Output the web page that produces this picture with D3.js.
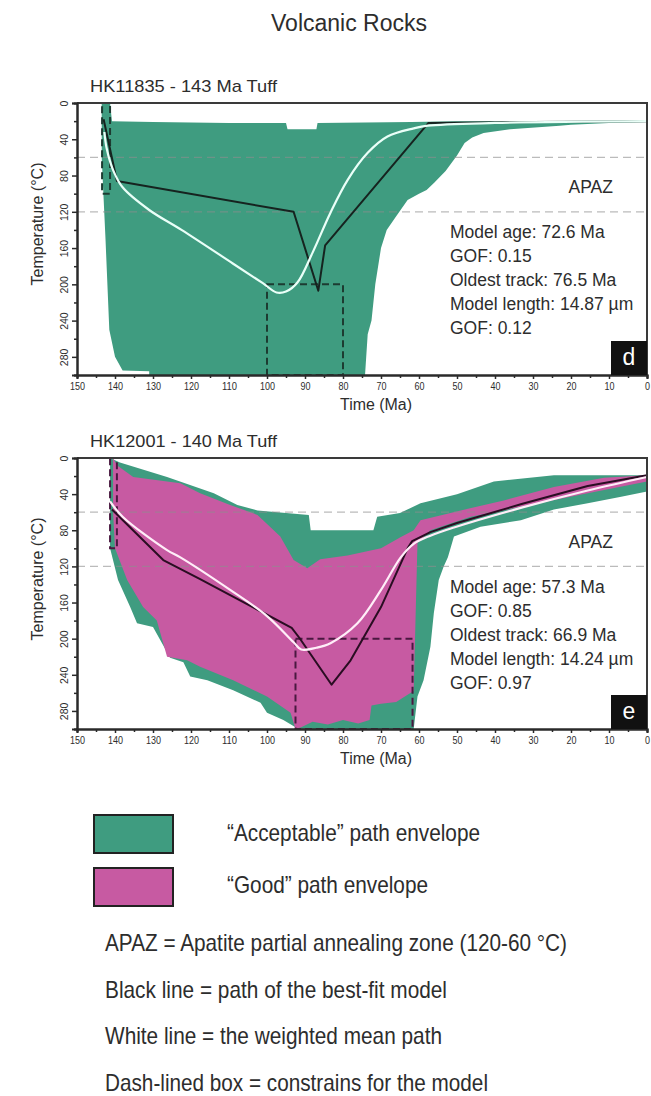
<!DOCTYPE html>
<html>
<head>
<meta charset="utf-8">
<script src="https://cdn.jsdelivr.net/npm/d3@7"></script>
<style>
  body { margin: 0; background: #fff; }
  svg { display: block; }
  text { font-family: 'Liberation Sans', Arial, sans-serif; fill: #2d2d2d; }
</style>
</head>
<body>
<svg id="chart" width="651" height="1096"></svg>
<script>
// ---- axes ----
const timeTicks = [150, 140, 130, 120, 110, 100, 90, 80, 70, 60, 50, 40, 30, 20, 10, 0];
const timeMinor = [145, 135, 125, 115, 105, 95, 85, 75, 65, 55, 45, 35, 25, 15, 5];
const tempTicks = [0, 40, 80, 120, 160, 200, 240, 280];
const tempMinor = [20, 60, 100, 140, 180, 220, 260, 300];
const apazLimits = [60, 120];

// ---- HK11835 (panel d) : [time Ma, temperature °C] ----
const dAcceptUpper = [[143.5, 0], [141.3, 0], [140.8, 20], [130, 21], [110, 22], [95, 22], [94.6, 29], [87, 29], [86.7, 22], [62, 21], [50, 20], [30, 20], [0, 19]];
const dAcceptLower = [[0, 21], [10, 22], [20, 24], [23, 25], [36, 29], [43, 33], [46, 38], [48, 44], [50, 58], [53, 75], [56, 88], [58, 96], [60, 100], [63, 107], [66, 125], [68.5, 140], [70, 160], [71.5, 200], [72.5, 240], [73.5, 255], [74, 287], [74.2, 300], [131, 300], [131, 296], [138, 295], [140, 280], [141.5, 250], [142.5, 150], [143.5, 60]];
const dBestFit = [[143, 18], [139.5, 86], [93, 120], [86.5, 207], [84.7, 157], [57.5, 22], [30, 21], [0, 20]];
const dMeanPath = [[142.8, 32], [142.2, 50], [140.5, 74], [138, 93], [131, 118], [122.5, 140], [109, 177], [101, 199], [97.5, 209], [95, 208], [92, 198], [88, 165], [83.3, 121], [78.8, 85], [73.5, 55], [68.3, 37], [61.4, 28], [57.7, 25], [40, 22], [0, 20]];
const dBoxes = [[143.4, 141.3, 0, 100], [100, 80, 200, 300]];
const dStats = ["Model age: 72.6 Ma", "GOF: 0.15", "Oldest track: 76.5 Ma", "Model length: 14.87 µm", "GOF: 0.12"];

// ---- HK12001 (panel e) ----
const eAcceptUpper = [[141.3, 0], [138.7, 5], [126.3, 21], [114, 39], [107.8, 52], [102.5, 58], [89, 63], [88.5, 80], [72, 80], [71, 65], [65, 61], [59.6, 50], [50, 40], [40.3, 26], [24.5, 19], [0, 19]];
const eAcceptLower = [[0, 37], [6.8, 43], [15.6, 50], [24.5, 57], [33.2, 69], [43.8, 76], [50.8, 87], [52.4, 110], [53.5, 120], [54.8, 135], [56.1, 172], [57, 209], [58.8, 246], [60.4, 264], [61.4, 300], [92, 300], [92.5, 298], [95.7, 290], [100, 282], [101.7, 271], [108.9, 257], [115.7, 246], [120.2, 242], [122, 226], [125.5, 221], [130, 187], [134.2, 183], [136, 165], [139.2, 135], [141.3, 100]];
const eGoodUpper = [[140.5, 0], [139.5, 8], [135.2, 21], [122.8, 28], [117.6, 39], [109.7, 52], [102.5, 63], [96.5, 87], [93, 113], [89.4, 122], [86, 112], [78.8, 108], [70, 100], [65, 88], [61.4, 80], [59.6, 69], [49, 58], [37.7, 47], [24.5, 32], [11.3, 22], [0, 19]];
const eGoodLower = [[0, 26], [15.6, 39], [33.2, 54], [46.4, 65], [57, 80], [60.4, 94], [61.4, 258], [63, 262], [66, 270], [70, 272], [72.5, 274], [73, 290], [76, 294], [80, 290], [84, 295], [88, 292], [91, 298], [92.5, 300], [93.8, 282], [100, 264], [108.9, 246], [117.6, 231], [121, 224], [126.3, 220], [129, 180], [132.6, 165], [136.8, 135], [140, 100], [140.5, 60]];
const eBestFit = [[140.8, 57], [127.3, 113], [117.6, 134], [93.5, 188], [91.5, 199], [83, 251], [78, 224], [70, 165], [63, 100], [61.8, 92], [57, 82], [50, 72], [33, 51], [15.6, 31], [0, 19]];
const eMeanPath = [[141.3, 48], [138, 65], [126.3, 102], [122.8, 110], [109.7, 146], [100, 175], [93, 204], [91, 212], [87, 210], [83.3, 205], [76.2, 183], [70, 146], [64.8, 110], [61.4, 95], [57, 86], [50.8, 77], [33, 55], [15.6, 36], [0, 21]];
const eBoxes = [[141.3, 139.5, 0, 100], [92.5, 61.7, 200, 300]];
const eStats = ["Model age: 57.3 Ma", "GOF: 0.85", "Oldest track: 66.9 Ma", "Model length: 14.24 µm", "GOF: 0.97"];

// ---- legend ----
const legendSwatches = ["\u201CAcceptable\u201D path envelope", "\u201CGood\u201D path envelope"];
const legendNotes = [
  "APAZ = Apatite partial annealing zone (120-60 \u00B0C)",
  "Black line = path of the best-fit model",
  "White line = the weighted mean path",
  "Dash-lined box = constrains for the model"
];

const GREEN = "#3f9c80";
const PINK = "#c75aa2";

const svg = d3.select("#chart");

// page title
svg.append("text")
  .attr("x", 349).attr("y", 31)
  .attr("text-anchor", "middle")
  .attr("font-size", 23)
  .text("Volcanic Rocks");

const x = d3.scaleLinear().domain([150, 0]).range([77, 647]);

function envelopePath(upper, lower, y) {
  const line = d3.line().x(d => x(d[0])).y(d => y(d[1]));
  return line(upper.concat(lower)) + "Z";
}

function drawPanel(cfg) {
  const y = d3.scaleLinear().domain([0, 300]).range([cfg.top, cfg.bottom]);
  const g = svg.append("g");
  const x0 = x.range()[0], x1 = x.range()[1];

  const clipId = "clip-" + cfg.id;
  svg.append("clipPath").attr("id", clipId)
    .append("rect").attr("x", x0).attr("y", cfg.top)
    .attr("width", x1 - x0).attr("height", cfg.bottom - cfg.top);

  const plot = g.append("g").attr("clip-path", `url(#${clipId})`);

  cfg.envelopes.forEach(env => {
    plot.append("path")
      .attr("d", envelopePath(env.upper, env.lower, y))
      .attr("fill", env.color);
  });

  // APAZ limits
  plot.selectAll(".apaz").data(apazLimits).join("line")
    .attr("x1", x0).attr("x2", x1)
    .attr("y1", d => y(d)).attr("y2", d => y(d))
    .attr("stroke", "#8d8d8d").attr("stroke-opacity", 0.6)
    .attr("stroke-width", 1.3).attr("stroke-dasharray", "8,5");

  // constraint boxes
  plot.selectAll(".box").data(cfg.boxes).join("rect")
    .attr("x", d => x(d[0])).attr("y", d => y(d[2]))
    .attr("width", d => x(d[1]) - x(d[0]))
    .attr("height", d => y(d[3]) - y(d[2]))
    .attr("fill", "none").attr("stroke", cfg.boxColor)
    .attr("stroke-width", 2).attr("stroke-dasharray", "7,4");

  const path = d3.line().x(d => x(d[0])).y(d => y(d[1]));
  plot.append("path").attr("d", path(cfg.best))
    .attr("fill", "none").attr("stroke", cfg.bestColor).attr("stroke-width", 2)
    .attr("stroke-linejoin", "round");
  plot.append("path").attr("d", path.curve(d3.curveCatmullRom)(cfg.mean))
    .attr("fill", "none").attr("stroke", cfg.meanColor).attr("stroke-width", 2.2);

  // frame
  g.append("path")
    .attr("d", `M${x0},${cfg.top}H${x1}V${cfg.bottom}`)
    .attr("fill", "none").attr("stroke", "#3a3a3a").attr("stroke-width", 2);

  // axes
  const yAxis = g.append("g").attr("transform", `translate(${x0},0)`)
    .call(d3.axisLeft(y).tickValues(tempTicks).tickSize(5).tickPadding(5));
  g.append("g").attr("transform", `translate(${x0},0)`)
    .call(d3.axisLeft(y).tickValues(tempMinor).tickSize(3).tickFormat(""));
  yAxis.selectAll(".tick text").each(function () {
    d3.select(this).attr("x", 0).attr("y", 0).attr("dy", 0)
      .attr("text-anchor", "middle").attr("font-size", 10.5)
      .attr("transform", `translate(-9,0) rotate(-90)`);
  });

  const xAxis = g.append("g").attr("transform", `translate(0,${cfg.bottom})`)
    .call(d3.axisBottom(x).tickValues(timeTicks).tickSize(4).tickPadding(3));
  g.append("g").attr("transform", `translate(0,${cfg.bottom})`)
    .call(d3.axisBottom(x).tickValues(timeMinor).tickSize(3).tickFormat(""));
  xAxis.selectAll(".tick text").each(function (d) {
    const s = String(d).length;
    d3.select(this).attr("font-size", 11)
      .attr("textLength", s * 5).attr("lengthAdjust", "spacingAndGlyphs");
  });

  g.selectAll(".tick text").attr("fill", "#333")
    .style("font-family", "'Liberation Sans', Arial, sans-serif");
  g.selectAll(".domain").attr("stroke", "#2a2a2a").attr("stroke-width", 2);
  g.selectAll(".tick line").attr("stroke", "#2a2a2a").attr("stroke-width", 1.5);

  // labels
  g.append("text").attr("x", 90).attr("y", cfg.top - 11)
    .attr("font-size", 17).attr("textLength", 187).attr("lengthAdjust", "spacingAndGlyphs")
    .text(cfg.title);
  g.append("text")
    .attr("transform", `translate(43,${cfg.top + 121}) rotate(-90)`)
    .attr("text-anchor", "middle").attr("font-size", 17)
    .attr("textLength", 123).attr("lengthAdjust", "spacingAndGlyphs")
    .text("Temperature (\u00B0C)");
  g.append("text").attr("x", 340).attr("y", cfg.bottom + 35)
    .attr("font-size", 16).attr("textLength", 72).attr("lengthAdjust", "spacingAndGlyphs")
    .text("Time (Ma)");

  g.append("text").attr("x", 613).attr("y", cfg.top + 90)
    .attr("text-anchor", "end").attr("font-size", 17.5).text("APAZ");
  g.selectAll(".stat").data(cfg.stats).join("text")
    .attr("x", 450).attr("y", (d, i) => cfg.top + 135 + i * 24)
    .attr("font-size", 17.5).text(d => d);

  // panel letter
  g.append("rect").attr("x", x1 - 36).attr("y", cfg.bottom - 34)
    .attr("width", 36).attr("height", 34).attr("fill", "#111");
  g.append("text").attr("x", x1 - 18).attr("y", cfg.bottom - 10)
    .attr("text-anchor", "middle").attr("font-size", 23)
    .style("fill", "#fff").text(cfg.letter);
}

drawPanel({
  id: "d", top: 103, bottom: 375, title: "HK11835 - 143 Ma Tuff", letter: "d",
  envelopes: [{ upper: dAcceptUpper, lower: dAcceptLower, color: GREEN }],
  boxes: dBoxes, boxColor: "#1d3b31",
  best: dBestFit, bestColor: "#16231f",
  mean: dMeanPath, meanColor: "#eafff8",
  stats: dStats
});

drawPanel({
  id: "e", top: 458, bottom: 729, title: "HK12001 - 140 Ma Tuff", letter: "e",
  envelopes: [
    { upper: eAcceptUpper, lower: eAcceptLower, color: GREEN },
    { upper: eGoodUpper, lower: eGoodLower, color: PINK }
  ],
  boxes: eBoxes, boxColor: "#4a1840",
  best: eBestFit, bestColor: "#2a0d22",
  mean: eMeanPath, meanColor: "#ffeef8",
  stats: eStats
});

// legend
const legend = svg.append("g");
legend.selectAll(".sw").data([GREEN, PINK]).join("rect")
  .attr("x", 94).attr("y", (d, i) => 815 + i * 53)
  .attr("width", 79).attr("height", 38)
  .attr("fill", d => d).attr("stroke", "#222").attr("stroke-width", 2);
legend.selectAll(".swl").data(legendSwatches).join("text")
  .attr("x", 227).attr("y", (d, i) => 841 + i * 52)
  .attr("font-size", 24).attr("textLength", (d, i) => [253, 201][i])
  .attr("lengthAdjust", "spacingAndGlyphs").text(d => d);
legend.selectAll(".note").data(legendNotes).join("text")
  .attr("x", 105).attr("y", (d, i) => 951 + i * 46.5)
  .attr("font-size", 24).attr("textLength", (d, i) => [462, 342, 337, 383][i])
  .attr("lengthAdjust", "spacingAndGlyphs").text(d => d);
</script>
</body>
</html>
